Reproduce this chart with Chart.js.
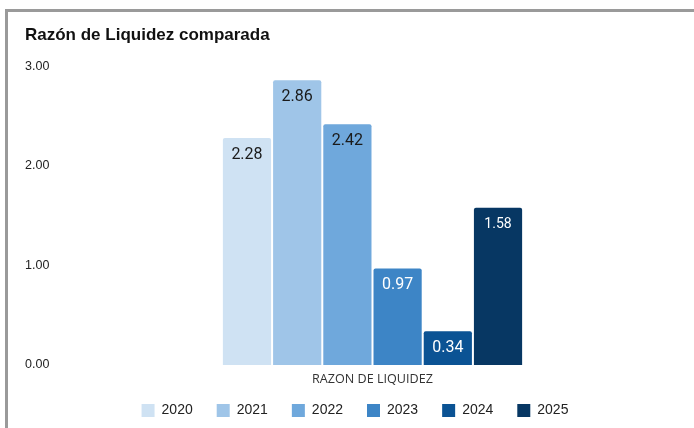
<!DOCTYPE html>
<html>
<head>
<meta charset="utf-8">
<script src="https://cdn.jsdelivr.net/npm/chart.js@4/dist/chart.umd.min.js"></script>
<style>
  html, body { margin: 0; padding: 0; background: #fff; }
  #wrap { position: relative; width: 694px; height: 428px; }
  #ls-chart { position: absolute; left: 0; top: 0; }
  .edge { position: absolute; background: #9a9a9a; }
  .edge.top { left: 5px; top: 9px; width: 689px; height: 3px; }
  .edge.left { left: 5px; top: 9px; width: 3px; height: 419px; }
</style>
</head>
<body>
<div id="wrap">
  <canvas id="ls-chart" width="694" height="428"></canvas>
  <div class="edge top"></div>
  <div class="edge left"></div>
</div>
<script>
(function () {
  'use strict';

  // data
  const categories = ['RAZON DE LIQUIDEZ'];
  const years = ['2020', '2021', '2022', '2023', '2024', '2025'];
  const values = [2.28, 2.86, 2.42, 0.97, 0.34, 1.58];
  const yTicks = [0, 1, 2, 3];

  // styling
  const barColors = ['#cfe2f3', '#9fc5e8', '#6fa8dc', '#3d85c6', '#0b5394', '#073763'];
  const textColors = ['#1a1a1a', '#1a1a1a', '#1a1a1a', '#ffffff', '#ffffff', '#ffffff'];
  const textSizes = [16, 16, 16, 16, 16, 14];

  Chart.defaults.font.family = '"Liberation Sans", Arial, sans-serif';
  Chart.defaults.color = '#222';

  // value labels inside the top of each bar + category name under the group
  const barLabels = {
    id: 'barLabels',
    afterDatasetsDraw(chart) {
      const c = chart.ctx;
      chart.data.datasets.forEach((ds, i) => {
        const meta = chart.getDatasetMeta(i);
        meta.data.forEach((bar, j) => {
          c.save();
          c.font = textSizes[i] + 'px Roboto, sans-serif';
          c.fillStyle = textColors[i];
          c.textAlign = 'center';
          c.textBaseline = 'middle';
          c.fillText(ds.data[j].toFixed(2), bar.x, bar.y + 17);
          c.restore();
        });
      });

      const xs = chart.scales.x;
      c.save();
      c.font = '12.6px "Open Sans", sans-serif';
      c.fillStyle = '#333';
      c.textAlign = 'center';
      c.textBaseline = 'middle';
      chart.data.labels.forEach((lab, j) => {
        c.fillText(lab, xs.getPixelForValue(j), chart.chartArea.bottom + 14.5);
      });
      c.restore();
    }
  };

  const datasets = years.map((y, i) => ({
    label: y,
    data: [values[i]],
    backgroundColor: barColors[i],
    borderRadius: 2,
    borderSkipped: 'bottom',
    categoryPercentage: 0.482,
    barPercentage: 0.96
  }));

  new Chart(document.getElementById('ls-chart'), {
    type: 'bar',
    data: { labels: categories, datasets: datasets },
    plugins: [barLabels],
    options: {
      responsive: false,
      animation: false,
      layout: { padding: { left: 25, right: 9, top: 0, bottom: 0.5 } },
      scales: {
        x: {
          grid: { display: false, drawTicks: false },
          border: { display: false },
          ticks: { display: false },
          afterFit(scale) { scale.height = 14.5; }
        },
        y: {
          min: yTicks[0],
          max: yTicks[yTicks.length - 1],
          grid: { display: false, drawTicks: false },
          border: { display: false },
          afterFit(scale) { scale.width = 35; },
          afterBuildTicks(scale) { scale.ticks = yTicks.map(v => ({ value: v })); },
          ticks: {
            crossAlign: 'far',
            padding: 0,
            color: '#222',
            font: { size: 12.5 },
            callback: v => Number(v).toFixed(2)
          }
        }
      },
      plugins: {
        title: {
          display: true,
          text: 'Razón de Liquidez comparada',
          align: 'start',
          color: '#111',
          font: { size: 17, weight: 'bold' },
          padding: { top: 25, bottom: 21 }
        },
        legend: {
          position: 'bottom',
          labels: {
            boxWidth: 13,
            boxHeight: 13,
            padding: 24,
            color: '#222',
            font: { size: 14 }
          }
        },
        tooltip: { enabled: false }
      }
    }
  });
})();
</script>
</body>
</html>
